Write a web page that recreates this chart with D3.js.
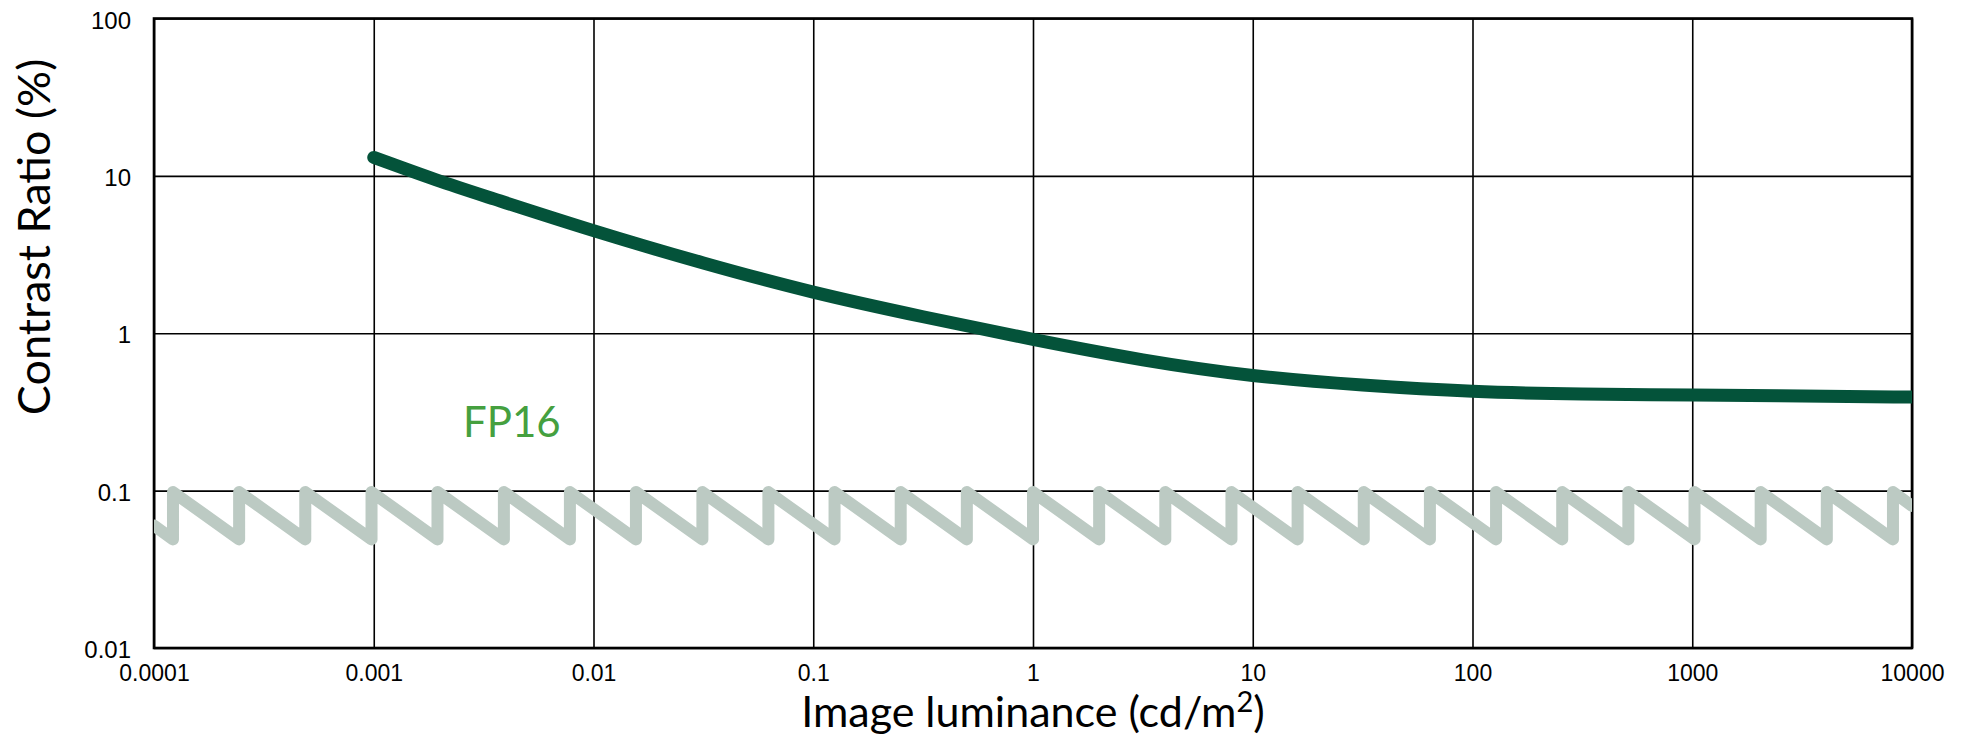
<!DOCTYPE html>
<html>
<head>
<meta charset="utf-8">
<script src="https://cdn.jsdelivr.net/npm/d3@7"></script>
<style>
  html, body { margin: 0; padding: 0; background: #ffffff; }
  svg { display: block; }
</style>
</head>
<body>
<svg id="chart" width="1967" height="736"></svg>
<script>
// ---------- data ----------
const xTickValues = [0.0001, 0.001, 0.01, 0.1, 1, 10, 100, 1000, 10000];
const xTickLabels = ["0.0001", "0.001", "0.01", "0.1", "1", "10", "100", "1000", "10000"];
const yTickValues = [0.01, 0.1, 1, 10, 100];
const yTickLabels = ["0.01", "0.1", "1", "10", "100"];

// Contrast ratio curve (luminance in cd/m2, contrast ratio in %)
const curveLuminance = [0.001, 0.002, 0.00316, 0.01, 0.0316, 0.1, 0.316, 1, 3.16, 10, 31.6, 100, 316, 1000, 3162, 10000];
const curveContrast  = [13.1, 9.2, 7.5, 4.45, 2.78, 1.8, 1.27, 0.91, 0.67, 0.53, 0.466, 0.423, 0.41, 0.405, 0.40, 0.393];

// FP16 sawtooth: jump positions (luminance) and the low/high values
const fp16Jumps = [0.000122, 0.000244, 0.000488, 0.000977, 0.00195, 0.00391, 0.00781, 0.0156, 0.0313,
                   0.0625, 0.125, 0.25, 0.5, 1, 2, 4, 8, 16, 32, 64, 128, 256, 512, 1024, 2048, 4096, 8192];
const fp16Low = 0.049;
const fp16High = 0.098;
const fp16Start = [0.0001, 0.06];
const fp16End = [10000, 0.08];

const seriesLabel = "FP16";
const xTitle = "Image luminance (cd/m";
const yTitle = "Contrast Ratio (%)";

// ---------- layout ----------
const W = 1967, H = 736;
const plot = { left: 154, right: 1912, top: 18.5, bottom: 648 };

const svg = d3.select("#chart");
svg.append("rect").attr("width", W).attr("height", H).attr("fill", "#ffffff");

const x = d3.scaleLog().domain([0.0001, 10000]).range([plot.left, plot.right]);
const y = d3.scaleLog().domain([0.01, 100]).range([plot.bottom, plot.top]);

// gridlines
const gx = svg.append("g")
  .attr("transform", `translate(0,${plot.bottom})`)
  .call(d3.axisBottom(x).tickValues(xTickValues).tickFormat("").tickSize(-(plot.bottom - plot.top)).tickSizeOuter(0));
gx.select(".domain").remove();
gx.selectAll("line").attr("stroke", "#000").attr("stroke-width", 1.6);

const gy = svg.append("g")
  .attr("transform", `translate(${plot.left},0)`)
  .call(d3.axisLeft(y).tickValues(yTickValues).tickFormat("").tickSize(-(plot.right - plot.left)).tickSizeOuter(0));
gy.select(".domain").remove();
gy.selectAll("line").attr("stroke", "#000").attr("stroke-width", 1.6);

// border
svg.append("rect")
  .attr("x", plot.left).attr("y", plot.top)
  .attr("width", plot.right - plot.left).attr("height", plot.bottom - plot.top)
  .attr("fill", "none").attr("stroke", "#000").attr("stroke-width", 2.6);

// tick labels
const xl = svg.append("g")
  .attr("transform", `translate(0,${plot.bottom})`)
  .call(d3.axisBottom(x).tickValues(xTickValues).tickFormat((d, i) => xTickLabels[i]).tickSize(0).tickPadding(0));
xl.select(".domain").remove();
xl.selectAll("text")
  .attr("y", 33).attr("dy", 0)
  .attr("font-family", "'Liberation Sans', Arial, sans-serif")
  .attr("font-size", 23).attr("fill", "#000");

const yl = svg.append("g")
  .attr("transform", `translate(${plot.left},0)`)
  .call(d3.axisLeft(y).tickValues(yTickValues).tickFormat((d, i) => yTickLabels[i]).tickSize(0).tickPadding(0));
yl.select(".domain").remove();
yl.selectAll("text")
  .attr("x", -23).attr("dy", "0.4em")
  .attr("font-family", "'Liberation Sans', Arial, sans-serif")
  .attr("font-size", 24).attr("fill", "#000");

// FP16 sawtooth
const sawPts = [fp16Start];
fp16Jumps.forEach(j => { sawPts.push([j, fp16Low]); sawPts.push([j, fp16High]); });
sawPts.push(fp16End);

svg.append("clipPath").attr("id", "plotclip").append("rect")
  .attr("x", plot.left).attr("y", plot.top)
  .attr("width", plot.right - plot.left).attr("height", plot.bottom - plot.top);

svg.append("path")
  .datum(sawPts)
  .attr("clip-path", "url(#plotclip)")
  .attr("fill", "none")
  .attr("stroke", "#bccac3")
  .attr("stroke-width", 12)
  .attr("stroke-linejoin", "round")
  .attr("stroke-linecap", "round")
  .attr("d", d3.line().x(d => x(d[0])).y(d => y(d[1])));

// contrast curve
const curvePts = curveLuminance.map((l, i) => [l, curveContrast[i]]);
svg.append("path")
  .datum(curvePts)
  .attr("clip-path", "url(#plotclip)")
  .attr("fill", "none")
  .attr("stroke", "#04533a")
  .attr("stroke-width", 13)
  .attr("stroke-linecap", "round")
  .attr("stroke-linejoin", "round")
  .attr("d", d3.line().curve(d3.curveBasis).x(d => x(d[0])).y(d => y(d[1])));

// series label
svg.append("text")
  .attr("x", 463).attr("y", 437)
  .attr("font-family", "Lato, sans-serif")
  .attr("font-size", 42)
  .attr("fill", "#45a03f")
  .text(seriesLabel);

// axis titles
const xt = svg.append("text")
  .attr("x", (plot.left + plot.right) / 2).attr("y", 727)
  .attr("text-anchor", "middle")
  .attr("font-family", "Lato, sans-serif")
  .attr("font-size", 43)
  .attr("fill", "#000");
xt.append("tspan").text(xTitle);
xt.append("tspan").attr("dy", -15).attr("font-size", 29).text("2");
xt.append("tspan").attr("dy", 15).text(")");

svg.append("text")
  .attr("transform", `translate(50,237) rotate(-90)`)
  .attr("text-anchor", "middle")
  .attr("font-family", "Lato, sans-serif")
  .attr("font-size", 45)
  .attr("fill", "#000")
  .text(yTitle);
</script>
</body>
</html>
